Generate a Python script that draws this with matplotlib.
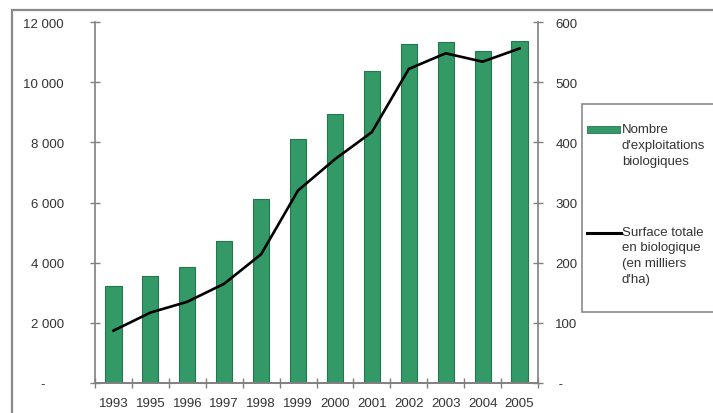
import matplotlib
matplotlib.use("Agg")
import matplotlib.pyplot as plt
from matplotlib.patches import Rectangle
from matplotlib.lines import Line2D
from matplotlib.ticker import FuncFormatter, FixedLocator

years = ["1993", "1995", "1996", "1997", "1998", "1999", "2000", "2001", "2002", "2003", "2004", "2005"]
exploitations = [3210, 3570, 3850, 4730, 6120, 8110, 8940, 10360, 11270, 11330, 11050, 11380]
surface = [87, 117, 135, 165, 214, 320, 372, 417, 522, 548, 534, 556]
left_ticks = [0, 2000, 4000, 6000, 8000, 10000, 12000]
right_ticks = [0, 100, 200, 300, 400, 500, 600]
legend_bar = ["Nombre", "d'exploitations", "biologiques"]
legend_line = ["Surface totale", "en biologique", "(en milliers", "d'ha)"]

W, H = 713, 414
FS = 9.5
plt.rcParams['font.family'] = ['Liberation Sans', 'DejaVu Sans']
fig = plt.figure(figsize=(W / 100, H / 100), dpi=100)

def fx(px):
    return px / W

def fy(py):
    return 1 - py / H

ax = fig.add_axes([fx(95), fy(384), fx(538) - fx(95), fy(23) - fy(384)])
ax2 = ax.twinx()

grey = '#808080'
txt = '#333333'
bar_color = '#339966'
x = list(range(len(years)))
ax.bar(x, exploitations, width=0.44, color=bar_color, edgecolor='#24764d', linewidth=0.8, zorder=2)
ax2.plot(x, surface, color='black', linewidth=1.9, zorder=3)

ax.set_xlim(-0.5, len(years) - 0.5)
ax.set_ylim(0, 12000)
ax2.set_ylim(0, 600)

def fmt_left(v, pos):
    if v == 0:
        return "-     "
    return f"{int(v):,}".replace(",", " ")

def fmt_right(v, pos):
    if v == 0:
        return " -"
    return f"{int(v)}"

ax.yaxis.set_major_locator(FixedLocator(left_ticks))
ax.yaxis.set_major_formatter(FuncFormatter(fmt_left))
ax2.yaxis.set_major_locator(FixedLocator(right_ticks))
ax2.yaxis.set_major_formatter(FuncFormatter(fmt_right))

ax.set_xticks(x)
ax.set_xticklabels(years)
ax.set_xticks([i - 0.5 for i in range(len(years) + 1)], minor=True)
ax.tick_params(axis='x', which='major', length=0, pad=10, labelsize=FS, labelcolor=txt)
ax.tick_params(axis='x', which='minor', length=7, direction='inout', color=grey, width=1)
ax.tick_params(axis='y', length=7, direction='inout', color=grey, width=1, pad=19,
               labelsize=FS, labelcolor=txt)
ax2.tick_params(axis='y', length=7, direction='inout', color=grey, width=1, pad=9,
                labelsize=FS, labelcolor=txt)

for a in (ax, ax2):
    a.spines['top'].set_visible(False)
    for s in ('left', 'right', 'bottom'):
        a.spines[s].set_color(grey)
        a.spines[s].set_linewidth(1.2)
    a.set_facecolor('none')
ax2.spines['left'].set_visible(False)
ax.spines['right'].set_visible(False)

# outer frame
fig.patches.append(Rectangle((fx(12), -0.2), 1.2, fy(11) + 0.2, transform=fig.transFigure,
                             fill=False, edgecolor='#8a8a8a', linewidth=1.6, zorder=0))

# legend box
fig.patches.append(Rectangle((fx(582), fy(313)), 0.5, fy(105) - fy(313), transform=fig.transFigure,
                             facecolor='white', edgecolor='#8a8a8a', linewidth=1.2, zorder=5))
fig.patches.append(Rectangle((fx(587), fy(134)), fx(620) - fx(587), fy(127) - fy(134),
                             transform=fig.transFigure, facecolor=bar_color,
                             edgecolor='#24764d', linewidth=0.6, zorder=6))
fig.lines.append(Line2D([fx(587), fx(621)], [fy(234), fy(234)], transform=fig.transFigure,
                        color='black', linewidth=2.2, zorder=6))
for i, t in enumerate(legend_bar):
    fig.text(fx(622), fy(130 + 16 * i), t, fontsize=FS, va='center', ha='left',
             color=txt, zorder=7)
for i, t in enumerate(legend_line):
    fig.text(fx(622), fy(233 + 15.5 * i), t, fontsize=FS, va='center', ha='left',
             color=txt, zorder=7)

fig.savefig("out.png", dpi=100)
